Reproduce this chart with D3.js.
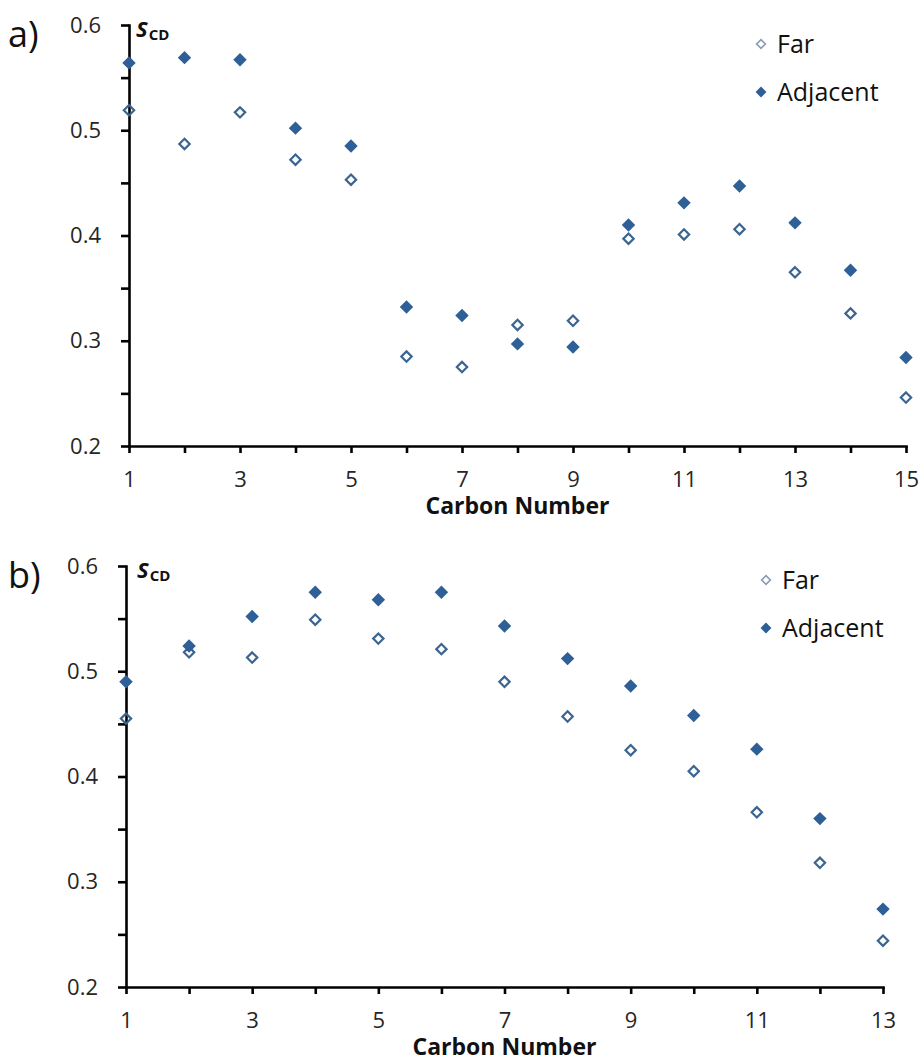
<!DOCTYPE html>
<html>
<head>
<meta charset="utf-8">
<script src="https://cdn.jsdelivr.net/npm/d3@7"></script>
<style>
  body { margin: 0; background: #fff; }
  svg { display: block; font-family: "Open Sans", sans-serif; }
  .axis path, .axis line { stroke: #000; stroke-width: 2.6; }
  .axis text { font-size: 22px; fill: #262626; font-family: "Open Sans", sans-serif; }
</style>
</head>
<body>
<svg id="chart" width="924" height="1063"></svg>
<script>
// panel a
const carbonA = [1, 2, 3, 4, 5, 6, 7, 8, 9, 10, 11, 12, 13, 14, 15];
const farA = [0.519, 0.487, 0.517, 0.472, 0.453, 0.285, 0.275, 0.315, 0.319, 0.397, 0.401, 0.406, 0.365, 0.326, 0.246];
const adjA = [0.564, 0.569, 0.567, 0.502, 0.485, 0.332, 0.324, 0.297, 0.294, 0.410, 0.431, 0.447, 0.412, 0.367, 0.284];

// panel b
const carbonB = [1, 2, 3, 4, 5, 6, 7, 8, 9, 10, 11, 12, 13];
const farB = [0.455, 0.518, 0.513, 0.549, 0.531, 0.521, 0.490, 0.457, 0.425, 0.405, 0.366, 0.318, 0.244];
const adjB = [0.490, 0.524, 0.552, 0.575, 0.568, 0.575, 0.543, 0.512, 0.486, 0.458, 0.426, 0.360, 0.274];

const yTickValues = [0.2, 0.25, 0.3, 0.35, 0.4, 0.45, 0.5, 0.55, 0.6];
const yLabelTicks = [0.2, 0.3, 0.4, 0.5, 0.6];
const seriesNames = ["Far", "Adjacent"];

const ADJ_COLOR = "#2e5f96";
const FAR_COLOR = "#3b6590";

const svg = d3.select("#chart");
const diamond = d3.symbol().type(d3.symbolDiamond2);

function drawPanel(cfg, carbon, far, adj) {
  const g = svg.append("g");
  const x = d3.scaleLinear().domain([carbon[0], carbon[carbon.length - 1]]).range([cfg.left, cfg.right]);
  const y = d3.scaleLinear().domain([0.2, 0.6]).range([cfg.bottom, cfg.top]);

  // axes
  g.append("g").attr("class", "axis")
    .attr("transform", `translate(${cfg.left},0)`)
    .call(d3.axisLeft(y).tickValues(yTickValues).tickSize(8).tickSizeOuter(0).tickPadding(20)
      .tickFormat(d => yLabelTicks.some(v => Math.abs(v - d) < 1e-9) ? d3.format(".1f")(d) : ""));

  g.append("g").attr("class", "axis")
    .attr("transform", `translate(0,${cfg.bottom})`)
    .call(d3.axisBottom(x).tickValues(carbon).tickSize(7).tickSizeOuter(0).tickPadding(18)
      .tickFormat(d => d % 2 === 1 ? d : ""));

  g.selectAll(".domain").attr("stroke-linecap", "square");

  // points
  g.append("g").selectAll("path")
    .data(carbon.map((c, i) => ({ c, v: far[i] })))
    .join("path")
    .attr("d", diamond.size(68))
    .attr("transform", d => `translate(${x(d.c)},${y(d.v)})`)
    .attr("fill", "none")
    .attr("stroke", FAR_COLOR)
    .attr("stroke-width", 2.2);

  g.append("g").selectAll("path")
    .data(carbon.map((c, i) => ({ c, v: adj[i] })))
    .join("path")
    .attr("d", diamond.size(115))
    .attr("transform", d => `translate(${x(d.c)},${y(d.v)})`)
    .attr("fill", ADJ_COLOR);

  // panel letter
  g.append("text")
    .attr("x", 8).attr("y", cfg.top + 22)
    .attr("font-size", 36).attr("fill", "#111")
    .text(cfg.letter);

  // S_CD label
  const s = g.append("text")
    .attr("x", cfg.left + cfg.sOffset).attr("y", cfg.top + 12)
    .attr("font-weight", "bold").attr("fill", "#111");
  s.append("tspan").attr("font-style", "italic").attr("font-size", 22).text("S");
  s.append("tspan").attr("font-size", 15).attr("dx", 1).attr("dy", 3).text("CD");

  // x title
  g.append("text")
    .attr("x", (cfg.left + cfg.right) / 2).attr("y", cfg.bottom + 68)
    .attr("text-anchor", "middle")
    .attr("font-size", 23).attr("font-weight", "bold").attr("fill", "#111")
    .text("Carbon Number");

  // legend
  const lg = g.append("g").attr("transform", `translate(${cfg.legX},${cfg.legY})`);
  lg.append("path").attr("d", diamond.size(48))
    .attr("fill", "none").attr("stroke", "#8d9db3").attr("stroke-width", 1.7);
  lg.append("path").attr("d", diamond.size(75))
    .attr("transform", "translate(0,48)")
    .attr("fill", ADJ_COLOR);
  lg.selectAll("text")
    .data(seriesNames)
    .join("text")
    .attr("x", 16).attr("y", (d, i) => i * 48)
    .attr("dy", "0.36em")
    .attr("font-size", 25).attr("fill", "#111")
    .text(d => d);
}

drawPanel({ letter: "a)", left: 129, right: 906, top: 25, bottom: 446, sOffset: 7, legX: 761, legY: 44 },
  carbonA, farA, adjA);
drawPanel({ letter: "b)", left: 126, right: 883, top: 566, bottom: 987, sOffset: 11, legX: 766, legY: 580 },
  carbonB, farB, adjB);
</script>
</body>
</html>
